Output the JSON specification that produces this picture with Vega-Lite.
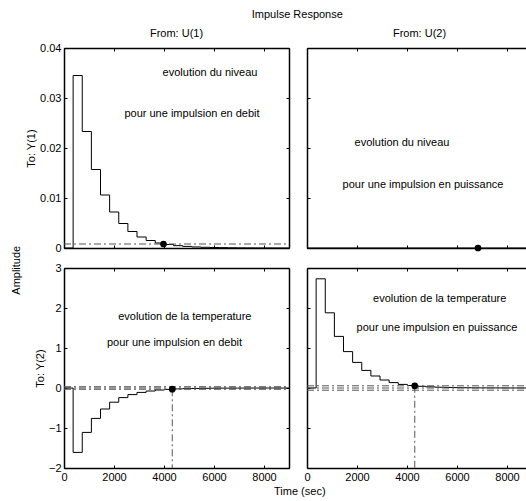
{
  "$schema": "https://vega.github.io/schema/vega-lite/v6.json",
  "padding": {"left": 10, "top": 8, "right": 0, "bottom": 0},
  "background": "white",
  "config": {
    "font": "Liberation Sans",
    "view": {"stroke": null},
    "title": {"font": "Liberation Sans", "fontSize": 11, "fontWeight": "normal", "color": "black"},
    "axis": {
      "grid": false, "domainColor": "black", "tickColor": "black", "labelColor": "black", "titleColor": "black",
      "labelFont": "Liberation Sans", "titleFont": "Liberation Sans", "labelFontSize": 11, "titleFontSize": 11,
      "titleFontWeight": "normal", "tickSize": -3, "labelPadding": 6, "titlePadding": 3,
      "domainWidth": 1.5, "tickWidth": 1, "labelFlush": false, "labelOverlap": false
    },
    "text": {"font": "Liberation Sans", "fontSize": 11}
  },
  "title": {"text": "Impulse Response", "frame": "bounds", "anchor": "middle", "dx": 25, "offset": 8},
  "vconcat": [
    {
      "title": {"text": "Amplitude", "orient": "left", "anchor": "middle", "offset": 4, "dx": -8},
      "vconcat": [
        {
          "title": {"text": "Time (sec)", "orient": "bottom", "anchor": "middle", "dx": 20, "offset": 4},
          "columns": 2,
          "bounds": "flush",
          "spacing": {"row": 20, "column": 18},
          "concat": [
            {
              "width": 225, "height": 200,
              "title": {"text": "From: U(1)", "frame": "group", "anchor": "middle", "offset": 3},
              "resolve": {"axis": {"x": "independent", "y": "independent"}},
              "layer": [
                {
                  "data": {"values": [{"t":0,"v":0},{"t":365,"v":0.0345},{"t":730,"v":0.0233},{"t":1095,"v":0.0157},{"t":1460,"v":0.0106},{"t":1825,"v":0.0072},{"t":2190,"v":0.0049},{"t":2555,"v":0.0033},{"t":2920,"v":0.0022},{"t":3285,"v":0.0015},{"t":3650,"v":0.001},{"t":4015,"v":0.0007},{"t":4380,"v":0.00047},{"t":4745,"v":0.00032},{"t":5110,"v":0.00021},{"t":5475,"v":0.00014},{"t":5840,"v":0.0001},{"t":6205,"v":0.00007},{"t":6570,"v":0.00005},{"t":6935,"v":0.00003},{"t":7300,"v":0.00002},{"t":7665,"v":0.000015},{"t":8030,"v":0.00001},{"t":8395,"v":0.000007},{"t":8760,"v":0.000005},{"t":9000,"v":0.000005}]},
                  "mark": {"type": "line", "interpolate": "step-after", "color": "black", "strokeWidth": 1},
                  "encoding": {
                    "x": {"field": "t", "type": "quantitative", "scale": {"domain": [0, 9000], "nice": false, "zero": false}, "axis": {"orient": "bottom", "values": [0, 2000, 4000, 6000, 8000], "labels": false, "title": null}},
                    "y": {"field": "v", "type": "quantitative", "scale": {"domain": [0, 0.04], "nice": false}, "axis": {"orient": "left", "values": [0, 0.01, 0.02, 0.03, 0.04], "format": "~g", "title": "To: Y(1)"}}
                  }
                },
                {
                  "data": {"values": [{"t":0,"v":0.0008,"g":"b"},{"t":9000,"v":0.0008,"g":"b"}]},
                  "mark": {"type": "line", "color": "#555555", "strokeWidth": 1, "strokeDash": [7, 3, 2, 3]},
                  "encoding": {
                    "x": {"field": "t", "type": "quantitative", "scale": {"domain": [0, 9000], "nice": false, "zero": false}, "axis": null},
                    "y": {"field": "v", "type": "quantitative", "scale": {"domain": [0, 0.04], "nice": false}, "axis": null},
                    "detail": {"field": "g"}
                  }
                },
                {
                  "data": {"values": [{"t":5840,"v":0.035,"label":"evolution du niveau"},{"t":5120,"v":0.0268,"label":"pour une impulsion en debit"}]},
                  "mark": {"type": "text", "fontSize": 11, "color": "black", "align": "center", "baseline": "middle"},
                  "encoding": {
                    "x": {"field": "t", "type": "quantitative", "scale": {"domain": [0, 9000], "nice": false, "zero": false}, "axis": null},
                    "y": {"field": "v", "type": "quantitative", "scale": {"domain": [0, 0.04], "nice": false}, "axis": null},
                    "text": {"field": "label"}
                  }
                },
                {
                  "data": {"values": [{"t":3980,"v":0.0008}]},
                  "mark": {"type": "point", "filled": true, "color": "black", "size": 45, "opacity": 1},
                  "encoding": {
                    "x": {"field": "t", "type": "quantitative", "scale": {"domain": [0, 9000], "nice": false, "zero": false}, "axis": {"orient": "top", "values": [0, 2000, 4000, 6000, 8000], "labels": false, "title": null}},
                    "y": {"field": "v", "type": "quantitative", "scale": {"domain": [0, 0.04], "nice": false}, "axis": {"orient": "right", "values": [0, 0.01, 0.02, 0.03, 0.04], "labels": false, "title": null}}
                  }
                }
              ]
            },
            {
              "width": 225, "height": 200,
              "title": {"text": "From: U(2)", "frame": "group", "anchor": "middle", "offset": 9},
              "resolve": {"axis": {"x": "independent", "y": "independent"}},
              "layer": [
                {
                  "data": {"values": [{"t":0,"v":0},{"t":9000,"v":0}]},
                  "mark": {"type": "line", "interpolate": "step-after", "color": "black", "strokeWidth": 1},
                  "encoding": {
                    "x": {"field": "t", "type": "quantitative", "scale": {"domain": [0, 9000], "nice": false, "zero": false}, "axis": {"orient": "bottom", "values": [0, 2000, 4000, 6000, 8000], "labels": false, "title": null}},
                    "y": {"field": "v", "type": "quantitative", "scale": {"domain": [0, 0.04], "nice": false}, "axis": {"orient": "left", "values": [0, 0.01, 0.02, 0.03, 0.04], "labels": false, "title": null}}
                  }
                },
                {
                  "data": {"values": [{"t":3800,"v":0.021,"label":"evolution du niveau"},{"t":4640,"v":0.0127,"label":"pour une impulsion en puissance"}]},
                  "mark": {"type": "text", "fontSize": 11, "color": "black", "align": "center", "baseline": "middle"},
                  "encoding": {
                    "x": {"field": "t", "type": "quantitative", "scale": {"domain": [0, 9000], "nice": false, "zero": false}, "axis": null},
                    "y": {"field": "v", "type": "quantitative", "scale": {"domain": [0, 0.04], "nice": false}, "axis": null},
                    "text": {"field": "label"}
                  }
                },
                {
                  "data": {"values": [{"t":6840,"v":0}]},
                  "mark": {"type": "point", "filled": true, "color": "black", "size": 45, "opacity": 1},
                  "encoding": {
                    "x": {"field": "t", "type": "quantitative", "scale": {"domain": [0, 9000], "nice": false, "zero": false}, "axis": {"orient": "top", "values": [0, 2000, 4000, 6000, 8000], "labels": false, "title": null}},
                    "y": {"field": "v", "type": "quantitative", "scale": {"domain": [0, 0.04], "nice": false}, "axis": {"orient": "right", "values": [0, 0.01, 0.02, 0.03, 0.04], "labels": false, "title": null}}
                  }
                }
              ]
            },
            {
              "width": 225, "height": 200,
              "resolve": {"axis": {"x": "independent", "y": "independent"}},
              "layer": [
                {
                  "data": {"values": [{"t":0,"v":0},{"t":365,"v":-1.61},{"t":730,"v":-1.11},{"t":1095,"v":-0.76},{"t":1460,"v":-0.525},{"t":1825,"v":-0.355},{"t":2190,"v":-0.24},{"t":2555,"v":-0.165},{"t":2920,"v":-0.11},{"t":3285,"v":-0.075},{"t":3650,"v":-0.05},{"t":4015,"v":-0.034},{"t":4380,"v":-0.023},{"t":4745,"v":-0.016},{"t":5110,"v":-0.011},{"t":5475,"v":-0.0075},{"t":5840,"v":-0.005},{"t":6205,"v":-0.0035},{"t":6570,"v":-0.0024},{"t":6935,"v":-0.0016},{"t":7300,"v":-0.0011},{"t":7665,"v":-0.0008},{"t":8030,"v":-0.0005},{"t":8395,"v":-0.0004},{"t":8760,"v":-0.0003},{"t":9000,"v":-0.0003}]},
                  "mark": {"type": "line", "interpolate": "step-after", "color": "black", "strokeWidth": 1},
                  "encoding": {
                    "x": {"field": "t", "type": "quantitative", "scale": {"domain": [0, 9000], "nice": false, "zero": false}, "axis": {"orient": "bottom", "values": [0, 2000, 4000, 6000, 8000], "format": "d", "title": null}},
                    "y": {"field": "v", "type": "quantitative", "scale": {"domain": [-2, 3], "nice": false}, "axis": {"orient": "left", "values": [-2, -1, 0, 1, 2, 3], "format": "d", "title": "To: Y(2)"}}
                  }
                },
                {
                  "data": {"values": [{"t":0,"v":0,"g":"z"},{"t":9000,"v":0,"g":"z"},{"t":0,"v":0.032,"g":"u"},{"t":9000,"v":0.032,"g":"u"},{"t":0,"v":-0.032,"g":"l"},{"t":9000,"v":-0.032,"g":"l"},{"t":4330,"v":-0.032,"g":"s"},{"t":4330,"v":-2,"g":"s"}]},
                  "mark": {"type": "line", "color": "#555555", "strokeWidth": 1, "strokeDash": [7, 3, 2, 3]},
                  "encoding": {
                    "x": {"field": "t", "type": "quantitative", "scale": {"domain": [0, 9000], "nice": false, "zero": false}, "axis": null},
                    "y": {"field": "v", "type": "quantitative", "scale": {"domain": [-2, 3], "nice": false}, "axis": null},
                    "detail": {"field": "g"}
                  }
                },
                {
                  "data": {"values": [{"t":4833,"v":1.775,"label":"evolution de la temperature"},{"t":4420,"v":1.13,"label":"pour une impulsion en debit"}]},
                  "mark": {"type": "text", "fontSize": 11, "color": "black", "align": "center", "baseline": "middle"},
                  "encoding": {
                    "x": {"field": "t", "type": "quantitative", "scale": {"domain": [0, 9000], "nice": false, "zero": false}, "axis": null},
                    "y": {"field": "v", "type": "quantitative", "scale": {"domain": [-2, 3], "nice": false}, "axis": null},
                    "text": {"field": "label"}
                  }
                },
                {
                  "data": {"values": [{"t":4330,"v":-0.03}]},
                  "mark": {"type": "point", "filled": true, "color": "black", "size": 45, "opacity": 1},
                  "encoding": {
                    "x": {"field": "t", "type": "quantitative", "scale": {"domain": [0, 9000], "nice": false, "zero": false}, "axis": {"orient": "top", "values": [0, 2000, 4000, 6000, 8000], "labels": false, "title": null}},
                    "y": {"field": "v", "type": "quantitative", "scale": {"domain": [-2, 3], "nice": false}, "axis": {"orient": "right", "values": [-2, -1, 0, 1, 2, 3], "labels": false, "title": null}}
                  }
                }
              ]
            },
            {
              "width": 225, "height": 200,
              "resolve": {"axis": {"x": "independent", "y": "independent"}},
              "layer": [
                {
                  "data": {"values": [{"t":0,"v":0},{"t":365,"v":2.73},{"t":730,"v":1.88},{"t":1095,"v":1.29},{"t":1460,"v":0.91},{"t":1825,"v":0.64},{"t":2190,"v":0.44},{"t":2555,"v":0.3},{"t":2920,"v":0.2},{"t":3285,"v":0.135},{"t":3650,"v":0.09},{"t":4015,"v":0.062},{"t":4380,"v":0.042},{"t":4745,"v":0.029},{"t":5110,"v":0.02},{"t":5475,"v":0.014},{"t":5840,"v":0.0095},{"t":6205,"v":0.0065},{"t":6570,"v":0.0045},{"t":6935,"v":0.003},{"t":7300,"v":0.002},{"t":7665,"v":0.0014},{"t":8030,"v":0.001},{"t":8395,"v":0.0007},{"t":8760,"v":0.0005},{"t":9000,"v":0.0005}]},
                  "mark": {"type": "line", "interpolate": "step-after", "color": "black", "strokeWidth": 1},
                  "encoding": {
                    "x": {"field": "t", "type": "quantitative", "scale": {"domain": [0, 9000], "nice": false, "zero": false}, "axis": {"orient": "bottom", "values": [0, 2000, 4000, 6000, 8000], "format": "d", "title": null}},
                    "y": {"field": "v", "type": "quantitative", "scale": {"domain": [-2, 3], "nice": false}, "axis": {"orient": "left", "values": [-2, -1, 0, 1, 2, 3], "labels": false, "title": null}}
                  }
                },
                {
                  "data": {"values": [{"t":0,"v":0,"g":"z"},{"t":9000,"v":0,"g":"z"},{"t":0,"v":0.055,"g":"u"},{"t":9000,"v":0.055,"g":"u"},{"t":0,"v":-0.055,"g":"l"},{"t":9000,"v":-0.055,"g":"l"},{"t":4310,"v":0.055,"g":"s"},{"t":4310,"v":-2,"g":"s"}]},
                  "mark": {"type": "line", "color": "#555555", "strokeWidth": 1, "strokeDash": [7, 3, 2, 3]},
                  "encoding": {
                    "x": {"field": "t", "type": "quantitative", "scale": {"domain": [0, 9000], "nice": false, "zero": false}, "axis": null},
                    "y": {"field": "v", "type": "quantitative", "scale": {"domain": [-2, 3], "nice": false}, "axis": null},
                    "detail": {"field": "g"}
                  }
                },
                {
                  "data": {"values": [{"t":5307,"v":2.23,"label":"evolution de la temperature"},{"t":5200,"v":1.5,"label":"pour une impulsion en puissance"}]},
                  "mark": {"type": "text", "fontSize": 11, "color": "black", "align": "center", "baseline": "middle"},
                  "encoding": {
                    "x": {"field": "t", "type": "quantitative", "scale": {"domain": [0, 9000], "nice": false, "zero": false}, "axis": null},
                    "y": {"field": "v", "type": "quantitative", "scale": {"domain": [-2, 3], "nice": false}, "axis": null},
                    "text": {"field": "label"}
                  }
                },
                {
                  "data": {"values": [{"t":4310,"v":0.055}]},
                  "mark": {"type": "point", "filled": true, "color": "black", "size": 45, "opacity": 1},
                  "encoding": {
                    "x": {"field": "t", "type": "quantitative", "scale": {"domain": [0, 9000], "nice": false, "zero": false}, "axis": {"orient": "top", "values": [0, 2000, 4000, 6000, 8000], "labels": false, "title": null}},
                    "y": {"field": "v", "type": "quantitative", "scale": {"domain": [-2, 3], "nice": false}, "axis": {"orient": "right", "values": [-2, -1, 0, 1, 2, 3], "labels": false, "title": null}}
                  }
                }
              ]
            }
          ]
        }
      ]
    }
  ]
}
